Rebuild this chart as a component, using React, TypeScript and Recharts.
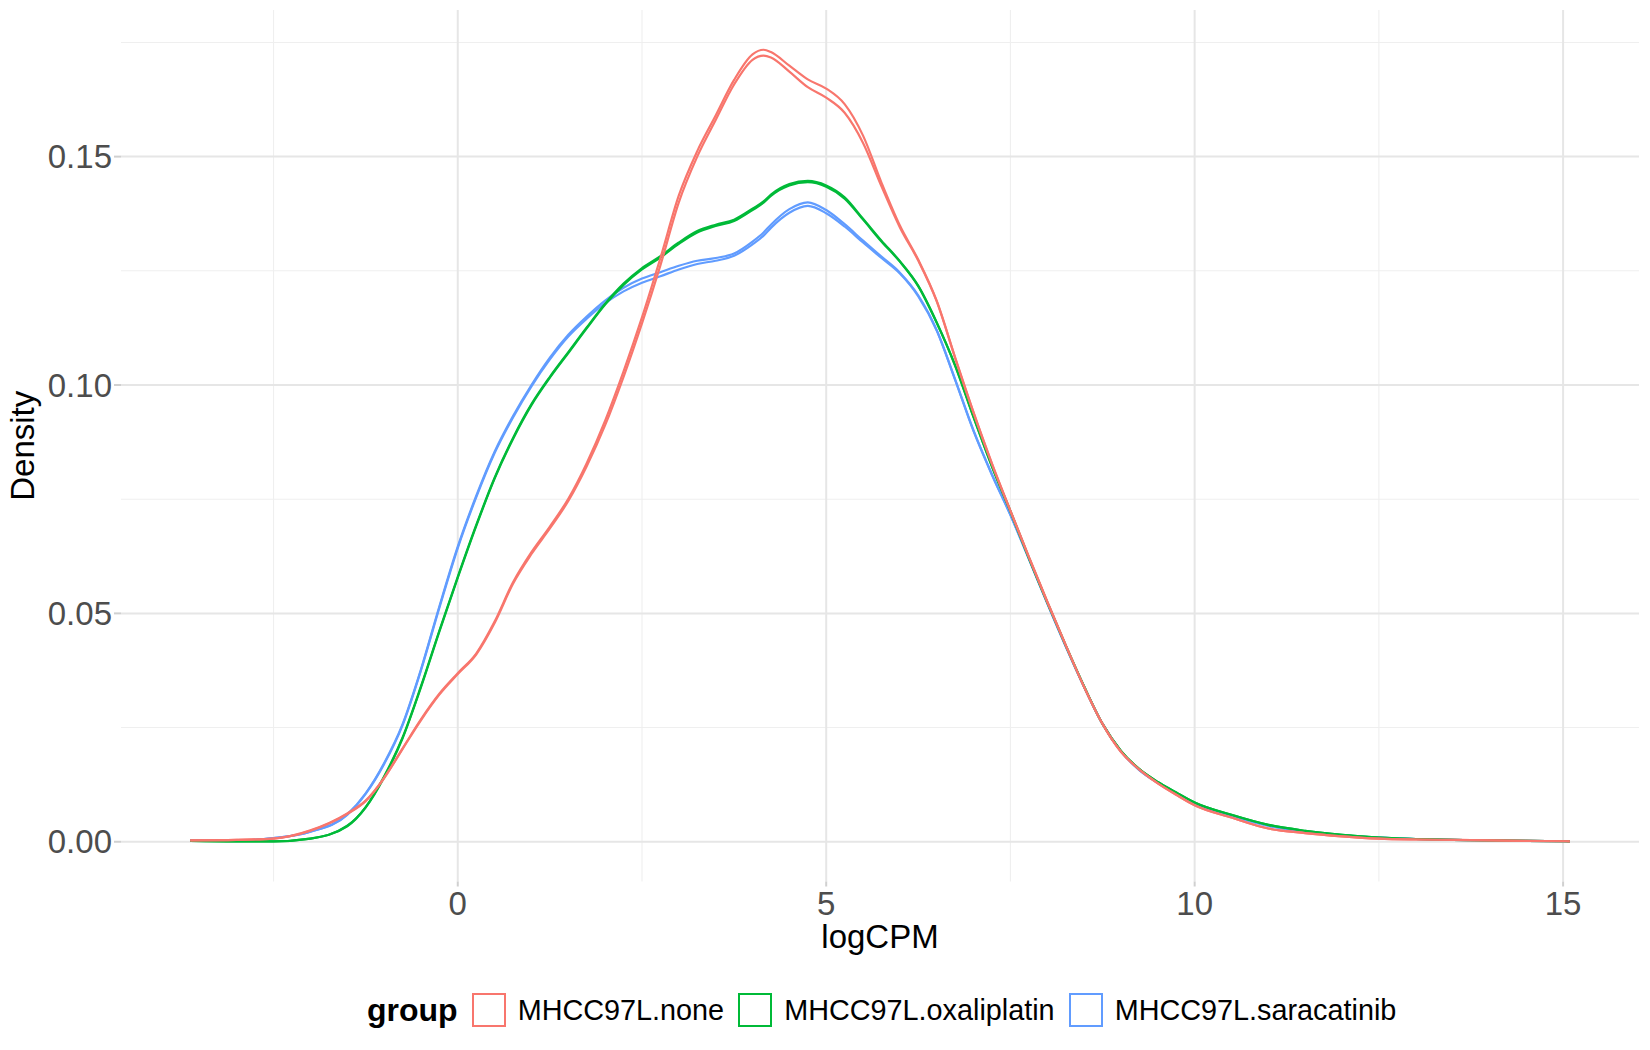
import React from "react";
import { CartesianGrid, Label, Legend, Line, LineChart, XAxis, YAxis } from "recharts";

// ─── Data (density estimates) ───────────────────────────────────────────────

const LOG_CPM = [
  -3.63, -3, -2.5, -2, -1.5, -1.25, -1, -0.75, -0.5, -0.25, 0, 0.25, 0.5, 0.75, 1, 1.25,
  1.5, 1.75, 2, 2.25, 2.5, 2.75, 3, 3.25, 3.5, 3.75, 4, 4.15, 4.25, 4.5, 4.75, 5, 5.25,
  5.5, 5.75, 6, 6.25, 6.5, 6.75, 7, 7.25, 7.5, 7.75, 8, 8.25, 8.5, 8.75, 9, 9.25, 9.5,
  9.75, 10, 10.5, 11, 11.5, 12, 12.5, 13, 13.5, 14, 14.5, 15.09,
];

const NONE_1 = [
  0.0003, 0.0004, 0.0007, 0.0025, 0.0062, 0.009, 0.014, 0.0204, 0.0268, 0.0324, 0.0369,
  0.0412, 0.0482, 0.0568, 0.0634, 0.069, 0.0751, 0.0829, 0.0922, 0.103, 0.1148, 0.1278,
  0.1415, 0.1512, 0.159, 0.1668, 0.1724, 0.1734, 0.1729, 0.1699, 0.1669, 0.1649, 0.1615,
  0.1546, 0.1443, 0.1349, 0.1274, 0.1184, 0.106, 0.094, 0.0828, 0.0725, 0.0624, 0.0526,
  0.0431, 0.0339, 0.0258, 0.0197, 0.0158, 0.0128, 0.0103, 0.008, 0.0053, 0.0029, 0.0019,
  0.0012, 0.0007, 0.0005, 0.0004, 0.0003, 0.0002, 0.0001,
];

const NONE_2 = [
  0.0003, 0.0004, 0.0007, 0.0024, 0.0061, 0.0089, 0.0139, 0.0203, 0.0266, 0.0322, 0.0367,
  0.041, 0.0479, 0.0565, 0.063, 0.0686, 0.0746, 0.0822, 0.0912, 0.1018, 0.1135, 0.1262,
  0.14, 0.15, 0.158, 0.1658, 0.1712, 0.1721, 0.1717, 0.1686, 0.1652, 0.1629, 0.1596,
  0.153, 0.1435, 0.1345, 0.1272, 0.1183, 0.1059, 0.0939, 0.0827, 0.0724, 0.0623, 0.0525,
  0.043, 0.0339, 0.0258, 0.0197, 0.0158, 0.0128, 0.0103, 0.008, 0.0053, 0.0029, 0.0019,
  0.0012, 0.0007, 0.0005, 0.0004, 0.0003, 0.0002, 0.0001,
];

const OXA_1 = [
  0.0002, 0.0001, 0.0001, 0.0007, 0.0035, 0.0076, 0.0143, 0.0228, 0.034, 0.0462, 0.058,
  0.0693, 0.0797, 0.0884, 0.0958, 0.1018, 0.1072, 0.1126, 0.1178, 0.1222, 0.1256, 0.1282,
  0.1312, 0.1337, 0.1351, 0.1362, 0.1386, 0.1402, 0.1417, 0.144, 0.1447, 0.1437, 0.1411,
  0.1364, 0.1316, 0.1271, 0.1217, 0.1137, 0.1043, 0.093, 0.0822, 0.0724, 0.0622, 0.0524,
  0.043, 0.034, 0.0258, 0.0199, 0.0159, 0.0131, 0.0108, 0.0086, 0.0059, 0.0037, 0.0024,
  0.0015, 0.0009, 0.0006, 0.0004, 0.0003, 0.0002, 0.0001,
];

const OXA_2 = [
  0.0002, 0.0001, 0.0001, 0.0007, 0.0034, 0.0075, 0.0141, 0.0226, 0.0338, 0.046, 0.0578,
  0.0691, 0.0795, 0.0882, 0.0956, 0.1016, 0.107, 0.1124, 0.1176, 0.1219, 0.1253, 0.1279,
  0.1309, 0.1334, 0.1348, 0.1359, 0.1383, 0.1399, 0.1414, 0.1437, 0.1444, 0.1434, 0.1408,
  0.1362, 0.1314, 0.127, 0.1216, 0.1136, 0.1042, 0.0929, 0.0821, 0.0723, 0.0621, 0.0524,
  0.043, 0.034, 0.0258, 0.0199, 0.0159, 0.0131, 0.0108, 0.0086, 0.0059, 0.0037, 0.0024,
  0.0015, 0.0009, 0.0006, 0.0004, 0.0003, 0.0002, 0.0001,
];

const SARA_1 = [
  0.0003, 0.0003, 0.0008, 0.0022, 0.006, 0.0106, 0.0172, 0.0257, 0.0377, 0.0515, 0.0646,
  0.0757, 0.0854, 0.0932, 0.1, 0.106, 0.111, 0.115, 0.1185, 0.1213, 0.1233, 0.1247,
  0.1261, 0.1272, 0.1278, 0.1288, 0.1314, 0.1334, 0.1351, 0.1385, 0.14, 0.1383, 0.1352,
  0.1316, 0.1281, 0.1246, 0.1196, 0.112, 0.1012, 0.09, 0.0804, 0.0716, 0.062, 0.0522,
  0.0428, 0.0339, 0.0258, 0.0198, 0.0157, 0.0129, 0.0106, 0.0084, 0.0057, 0.0035, 0.0022,
  0.0014, 0.0009, 0.0006, 0.0004, 0.0003, 0.0002, 0.0001,
];

const SARA_2 = [
  0.0003, 0.0003, 0.0008, 0.0022, 0.0059, 0.0105, 0.017, 0.0255, 0.0375, 0.0512, 0.0643,
  0.0754, 0.0851, 0.0929, 0.0997, 0.1056, 0.1106, 0.1145, 0.1179, 0.1205, 0.1224, 0.1238,
  0.1253, 0.1265, 0.1272, 0.1283, 0.1308, 0.1327, 0.1344, 0.1377, 0.1392, 0.1376, 0.1347,
  0.1312, 0.1278, 0.1244, 0.1194, 0.1119, 0.1011, 0.0899, 0.0803, 0.0715, 0.0619, 0.0522,
  0.0428, 0.0339, 0.0258, 0.0198, 0.0157, 0.0129, 0.0106, 0.0084, 0.0057, 0.0035, 0.0022,
  0.0014, 0.0009, 0.0006, 0.0004, 0.0003, 0.0002, 0.0001,
];

const GROUPS = [
  { name: "MHCC97L.none", color: "#F8766D" },
  { name: "MHCC97L.oxaliplatin", color: "#00BA38" },
  { name: "MHCC97L.saracatinib", color: "#619CFF" },
];

// drawn bottom to top
const SAMPLES = [
  { key: "sara1", color: "#619CFF", values: SARA_1 },
  { key: "sara2", color: "#619CFF", values: SARA_2 },
  { key: "oxa1", color: "#00BA38", values: OXA_1 },
  { key: "oxa2", color: "#00BA38", values: OXA_2 },
  { key: "none1", color: "#F8766D", values: NONE_1 },
  { key: "none2", color: "#F8766D", values: NONE_2 },
];

const X_TICKS = [0, 5, 10, 15];
const X_MINOR = [-2.5, 2.5, 7.5, 12.5];
const Y_TICKS = [0, 0.05, 0.1, 0.15];
const Y_MINOR = [0.025, 0.075, 0.125, 0.175];

const rows = LOG_CPM.map((x, i) => {
  const row: Record<string, number> = { x };
  SAMPLES.forEach((s) => {
    row[s.key] = s.values[i];
  });
  return row;
});

// ─── Styles ───────────────────────────────────────────────────────────────────

const FONT = '"Liberation Sans", Arial, sans-serif';
const tickStyle = { fill: "#4D4D4D", fontSize: 33, fontFamily: FONT } as const;

function DensityLabel(props: any) {
  const vb = props.viewBox ?? { x: 0, y: 0, height: 0 };
  const cx = vb.x + 34;
  const cy = vb.y + vb.height / 2;
  return (
    <text
      x={cx}
      y={cy}
      transform={`rotate(-90 ${cx} ${cy})`}
      textAnchor="middle"
      fill="#000"
      fontSize={33}
      fontFamily={FONT}
    >
      Density
    </text>
  );
}

function LogCpmLabel(props: any) {
  const vb = props.viewBox ?? { x: 0, y: 0, width: 0 };
  return (
    <text
      x={vb.x + vb.width / 2}
      y={vb.y + 66.5}
      textAnchor="middle"
      fill="#000"
      fontSize={33}
      fontFamily={FONT}
    >
      logCPM
    </text>
  );
}

function GroupLegend() {
  return (
    <div
      style={{
        height: 80,
        display: "flex",
        alignItems: "center",
        paddingLeft: 367,
        fontFamily: FONT,
        color: "#000",
        boxSizing: "border-box",
      }}
    >
      <span style={{ fontWeight: 700, fontSize: 32, marginRight: 14 }}>group</span>
      {GROUPS.map((g) => (
        <span key={g.name} style={{ display: "flex", alignItems: "center", marginRight: 14 }}>
          <span
            style={{
              width: 30,
              height: 30,
              border: `2px solid ${g.color}`,
              marginRight: 12,
              display: "inline-block",
            }}
          />
          <span style={{ fontSize: 28.8 }}>{g.name}</span>
        </span>
      ))}
    </div>
  );
}

export default function App() {
  return (
    <div style={{ position: "absolute", left: 0, top: 0, width: 1650, height: 1050, background: "#fff" }}>
      <LineChart
        width={1650}
        height={1050}
        data={rows}
        margin={{ top: 10, right: 11, bottom: 0, left: 0 }}
      >
        <CartesianGrid
          horizontalValues={Y_MINOR}
          verticalValues={X_MINOR}
          stroke="#EFEFEF"
          strokeWidth={1.1}
        />
        <CartesianGrid
          horizontalValues={Y_TICKS}
          verticalValues={X_TICKS}
          stroke="#E6E6E6"
          strokeWidth={2}
        />
        <XAxis
          type="number"
          dataKey="x"
          domain={[-4.57, 16.03]}
          allowDataOverflow
          ticks={X_TICKS}
          interval={0}
          height={88.5}
          axisLine={false}
          tickLine={{ stroke: "#D0D0D0", strokeWidth: 2 }}
          tickSize={5}
          tickMargin={5}
          tick={tickStyle}
        >
          <Label content={LogCpmLabel} />
        </XAxis>
        <YAxis
          type="number"
          domain={[-0.0087, 0.1821]}
          allowDataOverflow
          ticks={Y_TICKS}
          interval={0}
          width={121}
          axisLine={false}
          tickLine={{ stroke: "#D0D0D0", strokeWidth: 2 }}
          tickSize={7}
          tickMargin={2}
          tick={tickStyle}
          tickFormatter={(v: number) => v.toFixed(2)}
        >
          <Label content={DensityLabel} />
        </YAxis>
        <Legend
          verticalAlign="bottom"
          content={GroupLegend}
          wrapperStyle={{ left: 0, width: 1650, bottom: 0 }}
        />
        {SAMPLES.map((s) => (
          <Line
            key={s.key}
            type="monotone"
            dataKey={s.key}
            stroke={s.color}
            strokeWidth={2.2}
            dot={false}
            activeDot={false}
            isAnimationActive={false}
          />
        ))}
      </LineChart>
    </div>
  );
}
